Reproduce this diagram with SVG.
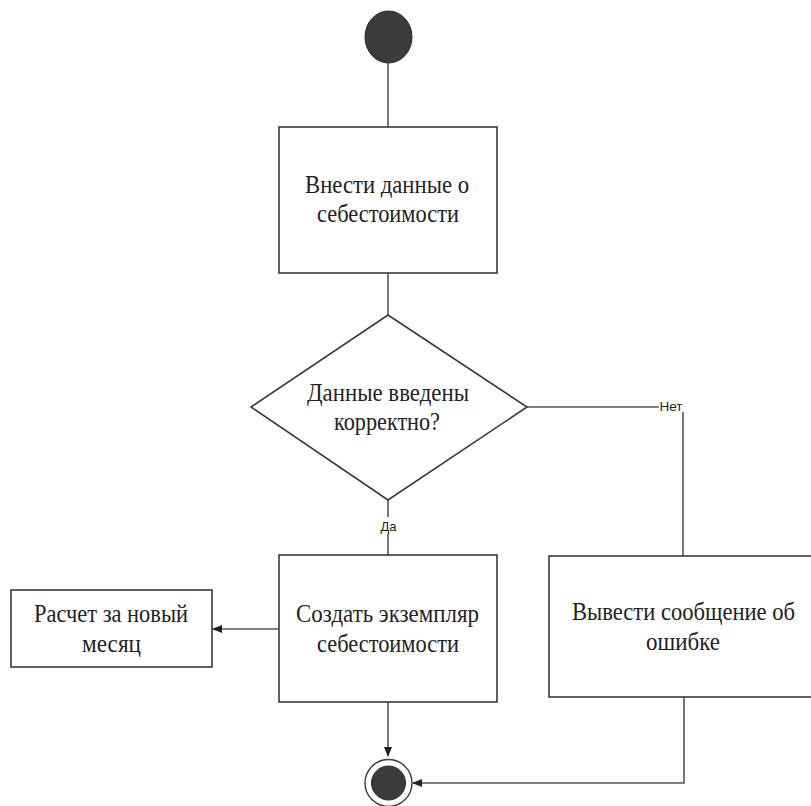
<svg xmlns="http://www.w3.org/2000/svg" width="811" height="806" viewBox="0 0 811 806">
  <defs>
    <marker id="arrow" markerWidth="10" markerHeight="8" refX="9" refY="4" orient="auto" markerUnits="userSpaceOnUse">
      <path d="M0,0 L10,4 L0,8 Z" fill="#222"/>
    </marker>
  </defs>
  <style>
    .box { fill: #fff; stroke: #3a3a3a; stroke-width: 1.6; }
    .dot { fill: #3b3b3b; stroke: #2a2a2a; stroke-width: 1; }
    .ring { fill: #fff; stroke: #3a3a3a; stroke-width: 1.4; }
    .line { fill: none; stroke: #555; stroke-width: 1.6; }
    .lbl { font-family: "Liberation Serif", "Times New Roman", serif; font-size: 25px; fill: #222; text-anchor: middle; }
    .tag { font-family: "Liberation Sans", Arial, sans-serif; font-size: 13px; fill: #222; text-anchor: middle; }
    .tagbg { fill: #fff; }
  </style>
  <rect width="811" height="806" fill="#fff"/>

  <!-- connectors -->
  <g id="connectors">
    <path class="line" d="M388,63 V127"/>
    <path class="line" d="M388,273 V315"/>
    <path class="line" d="M388,500 V555"/>
    <path class="line" d="M527,407 H683 V556"/>
    <path class="line" d="M279,629 H213" marker-end="url(#arrow)"/>
    <path class="line" d="M388,702 V756" marker-end="url(#arrow)"/>
    <path class="line" d="M684,697 V783 H413" marker-end="url(#arrow)"/>
    <rect class="tagbg" x="380" y="517" width="17" height="17"/>
    <text class="tag" x="388.5" y="531">Да</text>
    <rect class="tagbg" x="659" y="399" width="25" height="13"/>
    <text class="tag" x="671" y="411" textLength="23" lengthAdjust="spacingAndGlyphs">Нет</text>
  </g>

  <!-- initial state -->
  <g id="start">
    <ellipse class="dot" cx="388.5" cy="37" rx="23.5" ry="26"/>
  </g>

  <!-- enter cost data -->
  <g id="enter-data">
    <rect class="box" x="279" y="127" width="218" height="146"/>
    <text class="lbl" x="387" y="193" textLength="164" lengthAdjust="spacingAndGlyphs">Внести данные о</text>
    <text class="lbl" x="388" y="222" textLength="142" lengthAdjust="spacingAndGlyphs">себестоимости</text>
  </g>

  <!-- validation decision -->
  <g id="check">
    <path class="box" d="M388,315 L527,407 L388,500 L251,407 Z"/>
    <text class="lbl" x="388" y="401" textLength="162" lengthAdjust="spacingAndGlyphs">Данные введены</text>
    <text class="lbl" x="387" y="430" textLength="106" lengthAdjust="spacingAndGlyphs">корректно?</text>
  </g>

  <!-- create cost instance -->
  <g id="create">
    <rect class="box" x="279" y="555" width="218" height="147"/>
    <text class="lbl" x="387.5" y="622" textLength="183" lengthAdjust="spacingAndGlyphs">Создать экземпляр</text>
    <text class="lbl" x="388" y="652" textLength="142" lengthAdjust="spacingAndGlyphs">себестоимости</text>
  </g>

  <!-- next month calculation -->
  <g id="next-month">
    <rect class="box" x="11" y="590" width="201" height="77"/>
    <text class="lbl" x="111" y="622" textLength="154" lengthAdjust="spacingAndGlyphs">Расчет за новый</text>
    <text class="lbl" x="111.5" y="652" textLength="59" lengthAdjust="spacingAndGlyphs">месяц</text>
  </g>

  <!-- error message -->
  <g id="error">
    <rect class="box" x="549" y="556" width="270" height="141"/>
    <text class="lbl" x="683.5" y="620" textLength="223" lengthAdjust="spacingAndGlyphs">Вывести сообщение об</text>
    <text class="lbl" x="683" y="650" textLength="74" lengthAdjust="spacingAndGlyphs">ошибке</text>
  </g>

  <!-- final state -->
  <g id="end">
    <circle class="ring" cx="388.5" cy="783" r="23.5"/>
    <circle class="dot" cx="388.5" cy="783" r="17"/>
  </g>
</svg>
